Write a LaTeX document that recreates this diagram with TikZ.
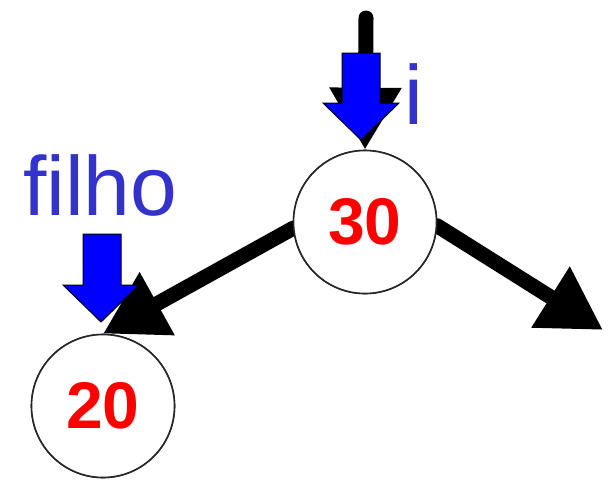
\documentclass[tikz,border=0pt]{standalone}
\usepackage{fontspec}
\setmainfont{Liberation Sans}
\usetikzlibrary{arrows.meta}
\definecolor{lblblue}{RGB}{51,51,204}
\definecolor{numred}{RGB}{255,0,0}
\begin{document}
\begin{tikzpicture}[x=1pt,y=-1pt,
  treenode/.style={circle,draw=black!85,line width=1.6pt,fill=white,minimum size=143pt,inner sep=0pt,
    font=\fontsize{66}{66}\selectfont\bfseries,text=numred},
  ptr/.style={line width=15pt,line cap=round,-{Triangle[length=62pt,width=68pt]}},
  bluearrow/.style={fill=blue,draw=black,line width=1pt,line join=miter},
  lbl/.style={font=\fontsize{84}{84}\selectfont,text=lblblue,inner sep=0pt}]
\useasboundingbox (0,0) rectangle (609,482);
\node[treenode] (n30) at (365,222) {30};
\node[treenode] (n20) at (103,406) {20};
\coordinate (top) at (366,18);
\coordinate (rend) at (603,330);
\draw[ptr] (top) -- (n30.north);
\draw[ptr] (n30.185) -- (n20.north);
\draw[ptr] (n30.-3) -- (rend);
\node[treenode] at (n30) {30};
\node[treenode] at (n20) {20};
\draw[bluearrow] (342,53) -- (380,53) -- (380,103) -- (399,103) -- (361,140) -- (323,103) -- (342,103) -- cycle;
\draw[bluearrow] (83,234) -- (121,234) -- (121,285) -- (139,285) -- (101,322) -- (63,285) -- (83,285) -- cycle;
\node[lbl,anchor=base west] (li) at (404,124) {i};
\node[lbl,anchor=base west] (lf) at (23,215) {filho};
\end{tikzpicture}
\end{document}
